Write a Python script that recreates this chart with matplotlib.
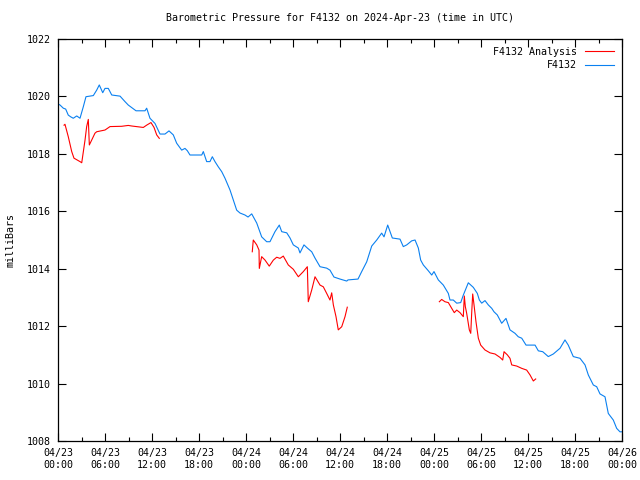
import matplotlib
matplotlib.use("Agg")
import matplotlib.pyplot as plt
import matplotlib.dates as mdates
import numpy as np
import pandas as pd

base = pd.Timestamp("2024-04-23 00:00")

# Observed station F4132: hours since 2024-04-23 00:00 UTC, pressure (mb)
obs_hours = [0.0, 0.26, 0.68, 0.98, 1.31, 1.62, 1.95, 2.39, 2.81, 3.23, 3.57, 4.51, 4.94, 5.27, 5.71,
             6.0, 6.42, 6.86, 7.92, 8.55, 8.97, 9.96, 11.11, 11.32, 11.74, 12.38, 13.02, 13.66, 14.17,
             14.72, 15.15, 15.79, 16.21, 16.51, 16.85, 18.35, 18.55, 18.98, 19.40, 19.70, 20.04, 20.46,
             20.90, 21.32, 21.96, 22.81, 23.23, 23.87, 24.26, 24.73, 25.37, 26.0, 26.64, 27.06, 27.70,
             28.25, 28.56, 29.20, 29.62, 30.04, 30.68, 30.89, 31.40, 31.83, 32.39, 32.81, 33.45, 34.30,
             34.72, 35.23, 36.0, 36.86, 37.02, 38.30, 38.77, 39.41, 40.05, 40.69, 41.32, 41.62, 42.09,
             42.68, 43.66, 44.08, 44.52, 45.15, 45.58, 46.0, 46.30, 46.64, 47.27, 47.71, 48.0, 48.55,
             49.19, 49.83, 50.04, 50.46, 50.90, 51.41, 51.74, 52.38, 53.02, 53.53, 53.79, 54.09, 54.51,
             54.93, 55.37, 55.66, 56.08, 56.64, 57.19, 57.70, 58.34, 58.76, 59.20, 59.75, 60.90, 61.32,
             61.88, 62.59, 63.23, 64.09, 64.72, 65.14, 65.78, 66.64, 67.28, 67.70, 68.34, 68.77, 69.19,
             69.83, 70.25, 70.89, 71.32, 71.74, 71.96]
obs_mb = [1019.74, 1019.70, 1019.59, 1019.56, 1019.35, 1019.29, 1019.24, 1019.32, 1019.24, 1019.64,
          1019.99, 1020.03, 1020.22, 1020.40, 1020.13, 1020.28, 1020.28, 1020.05, 1020.01, 1019.82,
          1019.70, 1019.50, 1019.50, 1019.59, 1019.24, 1019.06, 1018.69, 1018.69, 1018.80, 1018.66,
          1018.37, 1018.13, 1018.19, 1018.11, 1017.96, 1017.96, 1018.08, 1017.73, 1017.73, 1017.90,
          1017.73, 1017.55, 1017.38, 1017.15, 1016.74, 1016.04, 1015.94, 1015.87, 1015.80, 1015.91,
          1015.59, 1015.11, 1014.94, 1014.94, 1015.29, 1015.52, 1015.29, 1015.25, 1015.07, 1014.83,
          1014.72, 1014.55, 1014.83, 1014.72, 1014.59, 1014.37, 1014.07, 1014.02, 1013.95, 1013.71,
          1013.64, 1013.57, 1013.61, 1013.64, 1013.90, 1014.24, 1014.79, 1015.00, 1015.24, 1015.11,
          1015.52, 1015.07, 1015.03, 1014.77, 1014.83, 1014.97, 1015.00, 1014.72, 1014.30, 1014.13,
          1013.93, 1013.78, 1013.90, 1013.61, 1013.43, 1013.14, 1012.91, 1012.91, 1012.80, 1012.82,
          1013.08, 1013.51, 1013.35, 1013.14, 1012.91, 1012.80, 1012.89, 1012.74, 1012.62, 1012.50,
          1012.39, 1012.10, 1012.27, 1011.87, 1011.75, 1011.63, 1011.58, 1011.34, 1011.34, 1011.14,
          1011.11, 1010.94, 1011.03, 1011.23, 1011.52, 1011.34, 1010.94, 1010.88, 1010.65, 1010.30,
          1009.95, 1009.89, 1009.64, 1009.54, 1008.96, 1008.73, 1008.44, 1008.32, 1008.32]

# Analysis segments (gaps between them)
ana1_hours = [0.77, 0.89, 1.31, 1.75, 2.04, 2.81, 3.03, 3.45, 3.66, 3.87, 4.0, 4.30, 4.72, 4.94, 6.0,
              6.64, 8.13, 8.97, 9.41, 10.89, 11.32, 11.87, 12.26, 12.60, 12.93]
ana1_mb = [1019.00, 1019.03, 1018.60, 1018.08, 1017.85, 1017.73, 1017.69, 1018.48, 1018.95, 1019.20,
           1018.31, 1018.48, 1018.72, 1018.77, 1018.83, 1018.95, 1018.96, 1018.99, 1018.97, 1018.92,
           1019.00, 1019.09, 1018.92, 1018.66, 1018.54]
ana2_hours = [24.80, 24.93, 25.37, 25.66, 25.70, 26.0, 26.43, 26.97, 27.49, 27.92, 28.34, 28.76, 29.40,
              30.04, 30.68, 31.32, 31.83, 31.95, 32.39, 32.81, 33.45, 33.87, 34.30, 34.72, 34.94, 35.15,
              35.49, 35.78, 36.22, 36.64, 36.93]
ana2_mb = [1014.59, 1015.00, 1014.83, 1014.65, 1014.01, 1014.42, 1014.30, 1014.09, 1014.30, 1014.40,
           1014.36, 1014.44, 1014.13, 1013.98, 1013.72, 1013.90, 1014.07, 1012.85, 1013.26, 1013.72,
           1013.43, 1013.37, 1013.14, 1012.91, 1013.16, 1012.74, 1012.33, 1011.87, 1011.98, 1012.33,
           1012.66]
ana3_hours = [48.68, 48.98, 49.40, 49.83, 50.26, 50.59, 50.90, 51.32, 51.74, 51.87, 52.0, 52.17, 52.51,
              52.69, 52.81, 52.94, 53.11, 53.36, 53.66, 53.96, 54.51, 55.15, 55.79, 56.43, 56.77, 56.94,
              57.36, 57.70, 57.92, 58.56, 59.20, 59.83, 60.26, 60.68, 60.98]
ana3_mb = [1012.85, 1012.93, 1012.85, 1012.82, 1012.62, 1012.47, 1012.56, 1012.47, 1012.33, 1013.05,
           1012.68, 1012.45, 1011.87, 1011.75, 1012.45, 1013.12, 1012.74, 1012.15, 1011.58, 1011.34,
           1011.17, 1011.07, 1011.03, 1010.91, 1010.82, 1011.11, 1011.00, 1010.88, 1010.65, 1010.61,
           1010.53, 1010.47, 1010.30, 1010.09, 1010.16]

y_ticks = [1008, 1010, 1012, 1014, 1016, 1018, 1020, 1022]

def to_time(hours):
    return base + pd.to_timedelta(np.array(hours), unit="h")

plt.rcParams['font.family'] = ['DejaVu Sans Mono']
fs = 7.2

fig = plt.figure(figsize=(6.4, 4.8), dpi=100)
ax = fig.add_axes([58/640, 1-441/480, 564/640, 402/480])

red = '#ff0000'
blue = '#0a80f0'
ax.plot(to_time(ana1_hours), ana1_mb, color=red, lw=0.8, label='F4132 Analysis')
ax.plot(to_time(ana2_hours), ana2_mb, color=red, lw=0.8)
ax.plot(to_time(ana3_hours), ana3_mb, color=red, lw=0.8)
ax.plot(to_time(obs_hours), obs_mb, color=blue, lw=0.8, label='F4132')

ax.set_xlim(base, base + pd.Timedelta(hours=72))
ax.set_ylim(1008, 1022)
ax.set_yticks(y_ticks)
ax.xaxis.set_major_locator(mdates.HourLocator(byhour=[0, 6, 12, 18]))
ax.xaxis.set_minor_locator(mdates.HourLocator(byhour=[3, 9, 15, 21]))
ax.xaxis.set_major_formatter(mdates.DateFormatter('%m/%d\n%H:%M'))

ax.tick_params(which='both', direction='in', top=True, right=True, labelsize=fs, width=0.8, color='black')
ax.tick_params(which='major', length=6, pad=5)
ax.tick_params(which='minor', length=3)
for s in ax.spines.values():
    s.set_linewidth(0.9)

ax.set_ylabel('milliBars', fontsize=fs, labelpad=8)
ax.set_title('Barometric Pressure for F4132 on 2024-Apr-23 (time in UTC)', fontsize=fs, pad=13)

leg = ax.legend(loc='upper right', fontsize=fs, frameon=False, markerfirst=False,
                handlelength=2.9, handletextpad=0.8, borderaxespad=0.6, labelspacing=0.35,
                borderpad=0.2)
for t in leg.get_texts():
    t.set_ha('right')
leg._legend_box.align = 'right'

fig.savefig('out.png', dpi=100)
